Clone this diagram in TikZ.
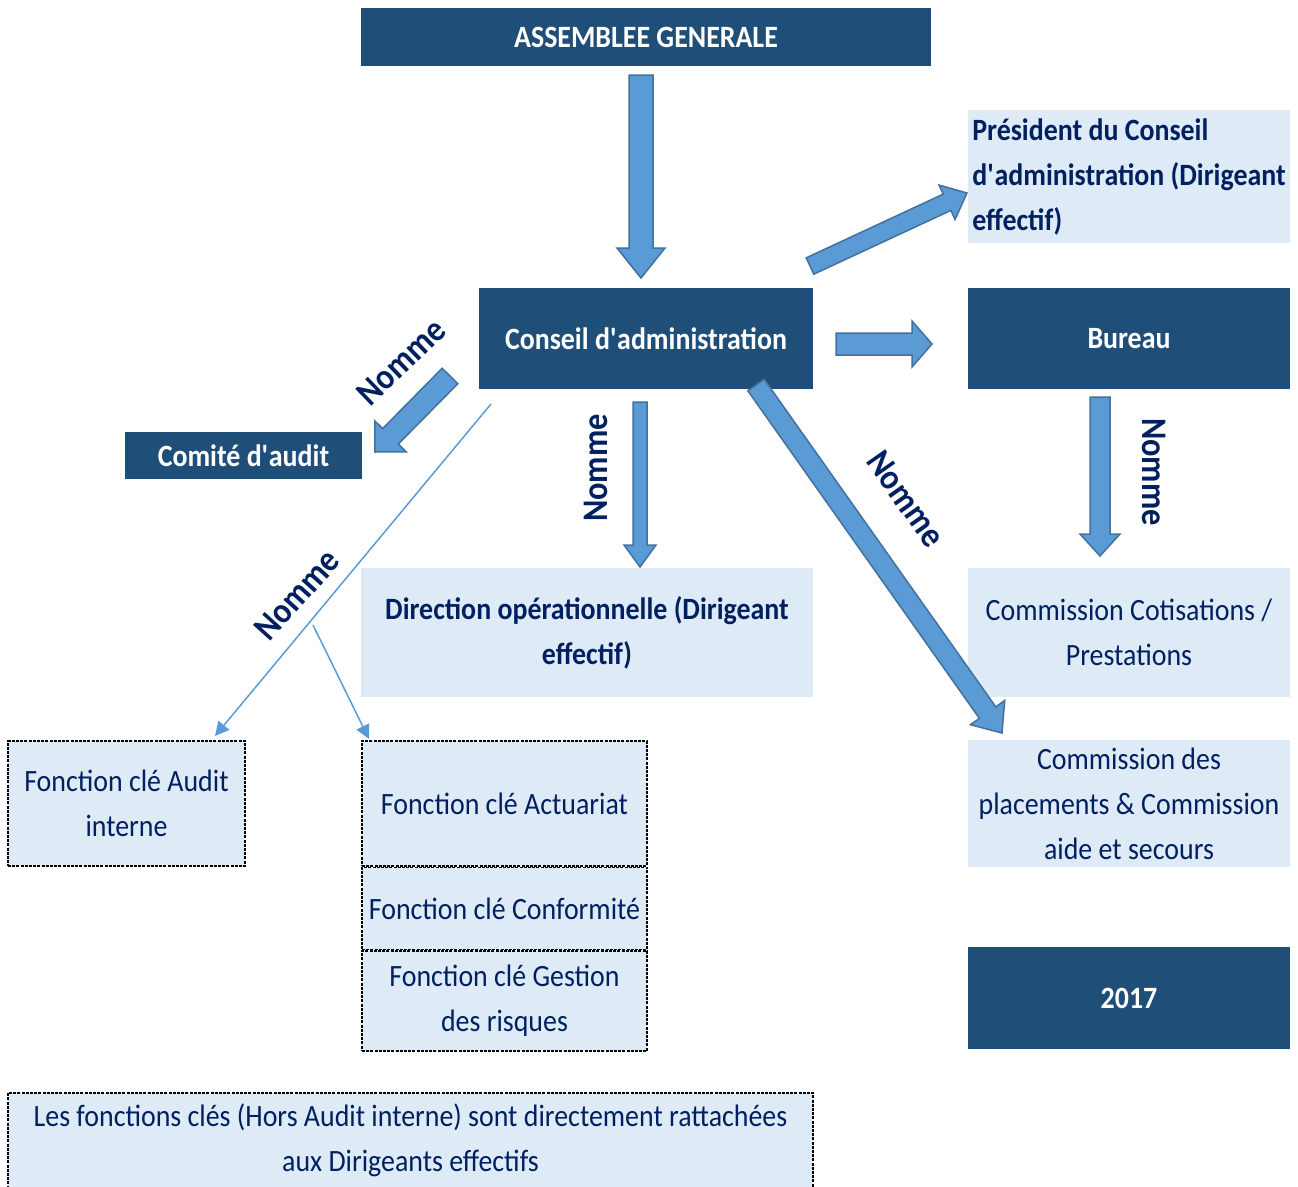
\documentclass[tikz,border=0pt]{standalone}
\usepackage{fontspec}
\setmainfont{Carlito}[FakeStretch=0.9]
\usepackage{tikz}
\usetikzlibrary{arrows.meta,positioning,calc}
\definecolor{darkfill}{HTML}{1F4E79}
\definecolor{lightfill}{HTML}{DEEBF7}
\definecolor{navytext}{HTML}{002060}
\definecolor{arrowfill}{HTML}{5B9BD5}
\definecolor{arrowline}{HTML}{41719C}
\tikzset{
    darkbox/.style={rectangle, fill=darkfill, text=white, inner sep=0, align=center, font=\fontsize{31}{45}\selectfont\bfseries},
    lightbox/.style={rectangle, fill=lightfill, text=navytext, inner sep=0, align=center, font=\fontsize{31}{45}\selectfont},
    keybox/.style={lightbox, draw=black, line width=1.6pt, dash pattern=on 3pt off 1.2pt},
    barrow/.style={fill=arrowfill, draw=arrowline, line width=1.5pt, line join=miter},
    link/.style={draw=arrowfill, line width=1.5pt, -{Triangle[length=14pt,width=14pt]}},
    nomme/.style={text=navytext, font=\fontsize{36}{40}\selectfont\bfseries, inner sep=0},
}
\newcommand{\apos}{\textquotesingle}
% block arrow: start, end, half shaft, half head, head length (pt)
\newcommand{\blockarrow}[5]{%
    \coordinate (ba-c) at ($(#2)!#5pt!(#1)$);
    \draw[barrow] ($(#1)!#3pt!90:(#2)$) -- ($(ba-c)!#3pt!90:(#2)$) -- ($(ba-c)!#4pt!90:(#2)$) -- (#2)
        -- ($(ba-c)!#4pt!-90:(#2)$) -- ($(ba-c)!#3pt!-90:(#2)$) -- ($(#1)!#3pt!-90:(#2)$) -- cycle;
}

\begin{document}
\begin{tikzpicture}[x=1pt, y=-1pt]
    \useasboundingbox (0,0) rectangle (1298,1186);

    % boxes
    \node[darkbox, minimum width=570, minimum height=58] (ag) at (646,37) {ASSEMBLEE GENERALE};
    \node[lightbox, font=\fontsize{31}{45}\selectfont\bfseries, minimum width=322, minimum height=133, align=left] (pres) at (1129,176.5) {Président du Conseil\\d\apos administration (Dirigeant\\effectif)};
    \node[darkbox, minimum width=334, minimum height=101] (ca) at (646,338.5) {Conseil d\apos administration};
    \node[darkbox, minimum width=322, minimum height=101] (bureau) at (1129,338.5) {Bureau};
    \node[darkbox, minimum width=237, minimum height=47] (comite) at (243.5,455.5) {Comité d\apos audit};
    \node[lightbox, font=\fontsize{31}{45}\selectfont\bfseries, minimum width=452, minimum height=129] (dirop) at (587,632.5) {Direction opérationnelle (Dirigeant\\effectif)};
    \node[lightbox, minimum width=322, minimum height=129] (cotis) at (1129,632.5) {Commission Cotisations /\\Prestations};
    \node[lightbox, minimum width=322, minimum height=127] (placem) at (1129,803.5) {Commission des\\placements \& Commission\\aide et secours};
    \node[darkbox, minimum width=322, minimum height=102] (annee) at (1129,998) {2017};

    \node[keybox, minimum width=237, minimum height=125] (fcaudit) at (126.5,803.5) {Fonction clé Audit\\interne};
    \node[keybox, minimum width=285, minimum height=125] (fcact) at (504.5,803.5) {Fonction clé Actuariat};
    \node[keybox, minimum width=285, minimum height=82, below=0pt of fcact] (fcconf) {Fonction clé Conformité};
    \node[keybox, minimum width=285, minimum height=100, below=0pt of fcconf] (fcrisk) {Fonction clé Gestion\\des risques};
    \node[keybox, minimum width=805, minimum height=95] (note) at (410.5,1140.5) {Les fonctions clés (Hors Audit interne) sont directement rattachées\\aux Dirigeants effectifs};

    % arrow ends
    \coordinate (ag-out) at (641,75);     \coordinate (ca-in) at (641,278);
    \coordinate (ca-pres) at (810,266);   \coordinate (pres-in) at (967,193);
    \coordinate (ca-bur) at (836,344);    \coordinate (bur-in) at (932,344);
    \coordinate (ca-com) at (450,376);    \coordinate (com-in) at (375,452);
    \coordinate (ca-dir) at (640,402);    \coordinate (dir-in) at (640,567);
    \coordinate (ca-plc) at (756,385);    \coordinate (plc-in) at (1002,733);
    \coordinate (bur-out) at (1100,397);  \coordinate (cot-in) at (1100,556);
    \coordinate (ca-fc) at (491,404);     \coordinate (fca-in) at (215,736);
    \coordinate (fc-mid) at (313,625);    \coordinate (fcact-in) at (369,739);

    \blockarrow{ag-out}{ca-in}{12}{24}{30}
    \blockarrow{ca-pres}{pres-in}{9}{19}{22}
    \blockarrow{ca-bur}{bur-in}{11}{23}{20}
    \blockarrow{ca-com}{com-in}{11}{22}{22}
    \blockarrow{ca-dir}{dir-in}{7}{16}{22}
    \blockarrow{ca-plc}{plc-in}{10}{21}{25}
    \blockarrow{bur-out}{cot-in}{10}{20}{22}

    \draw[link] (ca-fc) -- (fca-in);
    \draw[link] (fc-mid) -- (fcact-in);

    % labels
    \node[nomme, rotate=44] (n1) at (401,362) {Nomme};
    \node[nomme, rotate=90] (n2) at (596,468) {Nomme};
    \node[nomme, rotate=-55] (n3) at (906,499) {Nomme};
    \node[nomme, rotate=-90] (n4) at (1154,472) {Nomme};
    \node[nomme, rotate=48] (n5) at (297,595) {Nomme};
\end{tikzpicture}
\end{document}
